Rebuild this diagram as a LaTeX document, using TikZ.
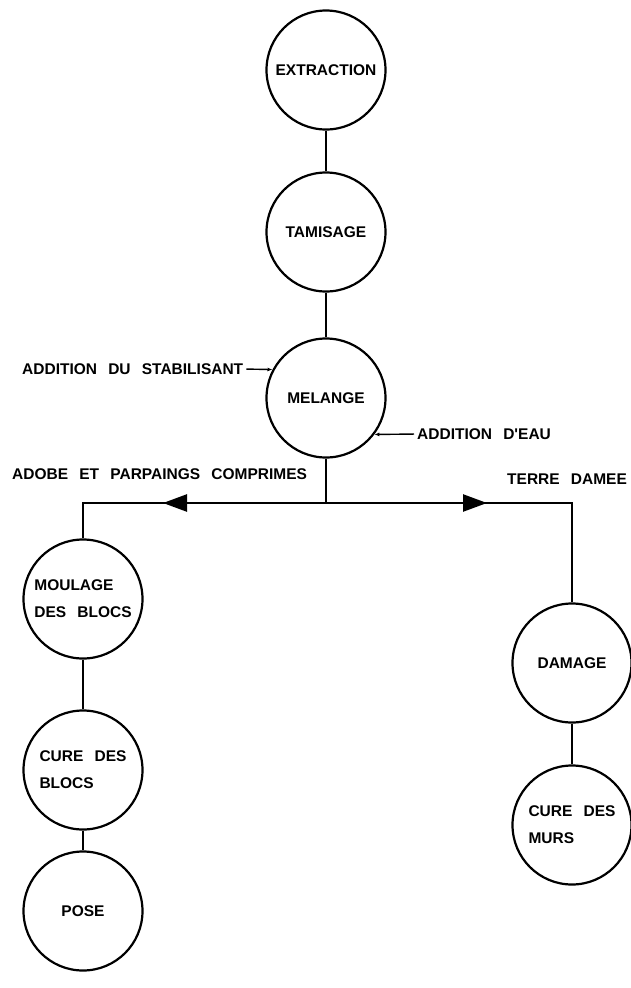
\documentclass[tikz,border=0pt]{standalone}
\usepackage{fontspec}
\setmainfont{Liberation Sans}
\newfontfamily\lblfont[WordSpace=2.6]{Liberation Sans}
\usetikzlibrary{arrows.meta,decorations.markings,positioning}

\begin{document}
\begin{tikzpicture}[x=1pt,y=-1pt,
  stage/.style={draw,circle,line width=2.2pt,minimum size=119pt,inner sep=0pt,align=left,
    font=\lblfont\bfseries\fontsize{15.5}{27}\selectfont},
  tag/.style={anchor=west,inner sep=0pt,font=\lblfont\bfseries\fontsize{15.5}{18}\selectfont},
  link/.style={line width=2.5pt},
  feed/.style={line width=1.4pt,shorten <=3pt,-{Latex[length=5pt,width=4pt]}},
  flowat/.style={link,line join=miter,postaction={decorate},
    decoration={markings,mark=at position #1 with {\arrow{Triangle[length=24pt,width=17pt]}}}}]
\useasboundingbox (0,0) rectangle (631,988);

% stages
\node[stage] (extraction) at (326,70) {EXTRACTION};
\node[stage] (tamisage) at (326,232) {TAMISAGE};
\node[stage] (melange) at (326,398) {MELANGE};
\node[stage] (moulage) at (83,599) {MOULAGE\\DES BLOCS};
\node[stage] (cureblocs) at (83,770) {CURE DES\\BLOCS};
\node[stage] (pose) at (83,911) {POSE};
\node[stage] (damage) at (572,663) {DAMAGE};
\node[stage] (curemurs) at (572,825) {CURE DES\\MURS};

% labels
\node[tag] (stab) at (22,369) {ADDITION DU STABILISANT};
\node[tag] (eau) at (417,434) {ADDITION D'EAU};
\node[tag] (adobe) at (12,474) {ADOBE ET PARPAINGS COMPRIMES};
\node[tag] (terre) at (507,479) {TERRE DAMEE};

\coordinate (split) at (326,503);
\coordinate (lcorner) at (83,503);
\coordinate (rcorner) at (572,503);

\draw[link] (extraction) -- (tamisage);
\draw[link] (tamisage) -- (melange);
\draw[link] (melange) -- (split);
\draw[flowat=163pt] (split) -- (lcorner) -- (moulage.north);
\draw[flowat=161pt] (split) -- (rcorner) -- (damage.north);
\draw[link] (moulage) -- (cureblocs);
\draw[link] (cureblocs) -- (pose);
\draw[link] (damage) -- (curemurs);

\draw[feed] (stab.east) -- (melange.152);
\draw[feed] (eau.west) -- (melange.-37);
\end{tikzpicture}
\end{document}
